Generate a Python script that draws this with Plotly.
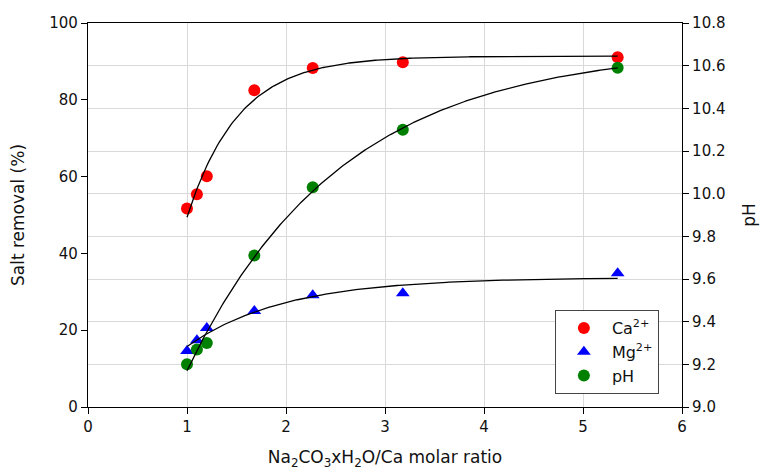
import numpy as np
import plotly.graph_objects as go

# Data
ratio = [1.0, 1.1, 1.2, 1.68, 2.27, 3.18, 5.35]
ca_removal = [51.7, 55.4, 60.1, 82.5, 88.3, 89.8, 91.1]
mg_removal = [14.6, 17.4, 20.6, 25.0, 29.1, 29.6, 34.8]
ph_values = [9.20, 9.27, 9.30, 9.71, 10.03, 10.30, 10.59]

x_ticks = [0, 1, 2, 3, 4, 5, 6]
y_ticks = [0, 20, 40, 60, 80, 100]
y2_ticks = [9.0, 9.2, 9.4, 9.6, 9.8, 10.0, 10.2, 10.4, 10.6, 10.8]


def exp_rise_fit(x, y):
    """Least-squares fit of y = a + b*exp(-k*x) via a grid over k."""
    x = np.asarray(x, float)
    y = np.asarray(y, float)
    best = None
    for k in np.linspace(0.05, 6, 1191):
        A = np.column_stack([np.ones_like(x), np.exp(-k * x)])
        coef, *_ = np.linalg.lstsq(A, y, rcond=None)
        err = np.sum((A @ coef - y) ** 2)
        if best is None or err < best[0]:
            best = (err, coef[0], coef[1], k)
    _, a, b, k = best
    xs = np.linspace(x.min(), x.max(), 200)
    return xs, a + b * np.exp(-k * xs)


font = "DejaVu Sans, Liberation Sans, Arial, sans-serif"
fig = go.Figure()

fig.add_trace(go.Scatter(x=ratio, y=ca_removal, mode="markers", name="Ca<sup>2+</sup>",
                         marker=dict(color="#ff0000", size=12, symbol="circle")))
fig.add_trace(go.Scatter(x=ratio, y=mg_removal, mode="markers", name="Mg<sup>2+</sup>",
                         marker=dict(color="#0000ff", size=12, symbol="triangle-up")))
fig.add_trace(go.Scatter(x=ratio, y=ph_values, mode="markers", name="pH", yaxis="y2",
                         marker=dict(color="#008000", size=12, symbol="circle")))

for ys, axis in [(ca_removal, "y"), (mg_removal, "y"), (ph_values, "y2")]:
    xs, fit = exp_rise_fit(ratio, ys)
    fig.add_trace(go.Scatter(x=xs, y=fit, mode="lines", yaxis=axis, showlegend=False,
                             line=dict(color="black", width=1.3), hoverinfo="skip"))

axis_common = dict(showline=True, linecolor="black", linewidth=1.2, ticks="outside",
                   ticklen=6, tickcolor="black", zeroline=False, automargin=False,
                   tickfont=dict(size=15, color="#111"))

fig.update_layout(
    width=764, height=471,
    margin=dict(l=88, r=82, t=23, b=64),
    paper_bgcolor="white", plot_bgcolor="white",
    font=dict(family=font, size=15, color="#111"),
    xaxis=dict(range=[0, 6], tickvals=x_ticks, showgrid=True, gridcolor="#d9d9d9",
               mirror=True,
               title=dict(text="Na<sub>2</sub>CO<sub>3</sub>xH<sub>2</sub>O/Ca molar ratio",
                          font=dict(size=17), standoff=16),
               **axis_common),
    yaxis=dict(range=[0, 100], tickvals=y_ticks, showgrid=False,
               title=dict(text="Salt removal (%)", font=dict(size=17), standoff=20),
               **axis_common),
    yaxis2=dict(range=[9.0, 10.8], tickvals=y2_ticks, tickformat=".1f", overlaying="y",
                side="right", showgrid=True, gridcolor="#d9d9d9",
                title=dict(text="pH", font=dict(size=17), standoff=18),
                **axis_common),
    legend=dict(x=0.786, y=0.2526, xanchor="left", yanchor="top",
                bordercolor="#444", borderwidth=1, bgcolor="white",
                font=dict(size=16, color="#111"), itemwidth=46,
                tracegroupgap=2),
    showlegend=True,
)

fig.write_html("out.html", config={"displayModeBar": False},
               post_script="document.body.style.margin='0';")
